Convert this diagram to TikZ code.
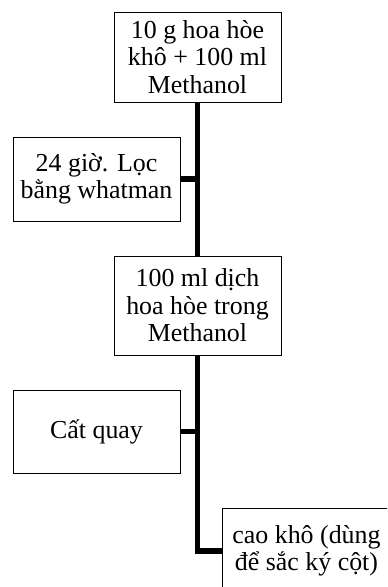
\documentclass[tikz,border=0pt]{standalone}
\usepackage{fontspec}
\setmainfont{Liberation Serif}
\begin{document}
\begin{tikzpicture}[x=1bp,y=1bp,
  box/.style={draw=black,line width=0.9bp,align=center,inner sep=0pt,
    font=\fontsize{26}{27.5}\selectfont},
  conn/.style={line width=5.5bp}]
\useasboundingbox (0,0) rectangle (387,587);
\clip (0,0) rectangle (387,587);
\node[box,minimum width=167bp,minimum height=90bp] (a) at (197.5,530) {10 g hoa hòe\\khô + 100 ml\\Methanol};
\node[box,minimum width=167bp,minimum height=84bp] (b) at (96.5,408) {24 giờ. Lọc\\bằng whatman};
\node[box,minimum width=167bp,minimum height=99bp] (c) at (197.5,281.5) {100 ml dịch\\hoa hòe trong\\Methanol};
\node[box,minimum width=167bp,minimum height=83bp] (d) at (96.5,155.5) {Cất quay};
\node[box,minimum width=169bp,minimum height=86bp] (e) at (306.5,36) {cao khô (dùng\\để sắc ký cột)};
\draw[conn] (a.south) -- (c.north);
\draw[conn] (b.east) -- (b.east -| a.south);
\draw[conn] (c.south) |- (e.west);
\draw[conn] (d.east) -- (d.east -| c.south);
\end{tikzpicture}
\end{document}
